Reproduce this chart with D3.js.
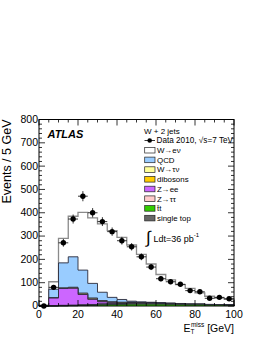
<!DOCTYPE html>
<html><head><meta charset="utf-8">
<script src="https://cdn.jsdelivr.net/npm/d3@7"></script>
<style>body{margin:0;background:#fff}svg{display:block}text{font-family:"Liberation Sans",Arial,Helvetica,sans-serif}</style>
</head><body>
<script>
const binEdges = [0,5,10,15,20,25,30,35,40,45,50,55,60,65,70,75,80,85,90,95,100];
const binCenters = [2.5,7.5,12.5,17.5,22.5,27.5,32.5,37.5,42.5,47.5,52.5,57.5,62.5,67.5,72.5,77.5,82.5,87.5,92.5,97.5];
const dataValues = [0,80,271,373,471,400,362,319,280,254,211,167,117,104,93,66,61,33,37,31];
const dataErrors = [0,8.9,16.5,19.3,21.7,20,19,17.9,16.7,15.9,14.5,12.9,10.8,10.2,9.6,8.1,7.8,5.7,6.1,5.6];
// stacked MC components, bottom -> top
const ttbar     = [0,0,0.5,1,2,3,5,6,7,8,8,8,8,7,6,5,5,4,4,3];
const singleTop = [0,0,0.5,1,1.5,2,3,3,3,4,4,4,3,3,3,2,2,2,1.5,1.5];
const zTauTau   = [0,1,2,2,2,1.5,1,0.5,0.3,0.2,0.1,0.1,0.1,0,0,0,0,0,0,0];
const zee       = [1,33,72,72,44,22,9,4,2,1,0.5,0.3,0.2,0.2,0.1,0.1,0.1,0,0,0];
const dibosons  = [0,0.5,1,1.5,2,2,2,2,1.5,1.5,1.2,1,0.8,0.7,0.6,0.5,0.4,0.3,0.3,0.2];
const wTauNu    = [0,1,2,3,4,4,3.5,3,2.5,2,1.5,1.2,1,0.8,0.6,0.5,0.4,0.3,0.3,0.2];
const qcd       = [1,36.5,107,130.5,98.5,62.5,35.5,18.5,11.7,4,2.5,1.5,1,0.8,0.5,0.4,0.3,0.2,0.2,0.1];
const wENu      = [2,32,105,174,248,281,293,286,266,241,204,164,121,99.5,81,67.5,48,35,28,24];
const xTicks = [0,20,40,60,80,100];
const yTicks = [0,100,200,300,400,500,600,700,800];

const layers = [
  {name:"t\u0304t", vals:ttbar, fill:"#33cc00"},
  {name:"single top", vals:singleTop, fill:"#666666"},
  {name:"Z\u2192\u03c4\u03c4", vals:zTauTau, fill:"#ffcccc"},
  {name:"Z\u2192ee", vals:zee, fill:"#cc66ff"},
  {name:"dibosons", vals:dibosons, fill:"#ffcc00"},
  {name:"W\u2192\u03c4\u03bd", vals:wTauNu, fill:"#ffff99"},
  {name:"QCD", vals:qcd, fill:"#99ccff"},
  {name:"W\u2192e\u03bd", vals:wENu, fill:"#ffffff"}
];
const legendOrder = ["W\u2192e\u03bd","QCD","W\u2192\u03c4\u03bd","dibosons","Z\u2192ee","Z\u2192\u03c4\u03c4","t\u0304t","single top"];

const W=266,H=344;
const L=39,R=234,T=119.5,B=306;
const svg=d3.select("body").append("svg").attr("width",W).attr("height",H);
const x=d3.scaleLinear().domain([0,100]).range([L,R]);
const y=d3.scaleLinear().domain([0,800]).range([B,T]);

let cum = binCenters.map(()=>0);
layers.forEach(l=>{ l.top = l.vals.map((v,i)=>cum[i]+v); cum = l.top; });

const stepLine = d3.line().x(d=>x(d[0])).y(d=>y(d[1]));
function stepPts(top){
  const pts=[[binEdges[0],0]];
  top.forEach((v,i)=>{pts.push([binEdges[i],v]);pts.push([binEdges[i+1],v]);});
  pts.push([binEdges[binEdges.length-1],0]);
  return pts;
}
const g=svg.append("g");
layers.slice().reverse().forEach(l=>{
  const isW = l.fill==="#ffffff";
  g.append("path").attr("d",stepLine(stepPts(l.top)))
   .attr("fill",l.fill)
   .attr("stroke",isW?"#8a8a8a":"#2a2a3a")
   .attr("stroke-width",isW?1.3:0.9)
   .attr("stroke-linejoin","miter");
});

const dg=svg.append("g");
binCenters.forEach((c,i)=>{
  const v=dataValues[i], e=dataErrors[i];
  if(e>0){
    dg.append("line").attr("x1",x(c)).attr("x2",x(c)).attr("y1",y(v-e)).attr("y2",y(v+e)).attr("stroke","#000").attr("stroke-width",0.8);
  }
  dg.append("line").attr("x1",x(c-2.5)).attr("x2",x(c+2.5)).attr("y1",y(v)).attr("y2",y(v)).attr("stroke","#000").attr("stroke-width",0.8);
  dg.append("circle").attr("cx",x(c)).attr("cy",y(v)).attr("r",2.7).attr("fill","#000");
});

svg.append("rect").attr("x",L).attr("y",T).attr("width",R-L).attr("height",B-T).attr("fill","none").attr("stroke","#000").attr("stroke-width",1);

const ax=svg.append("g").attr("stroke","#000").attr("stroke-width",0.8);
for(let v=0; v<=100; v+=5){
  const len = (v%20===0)?6:3;
  ax.append("line").attr("x1",x(v)).attr("x2",x(v)).attr("y1",B).attr("y2",B-len);
  ax.append("line").attr("x1",x(v)).attr("x2",x(v)).attr("y1",T).attr("y2",T+len);
}
for(let v=0; v<=800; v+=20){
  const len = (v%100===0)?6:3;
  ax.append("line").attr("y1",y(v)).attr("y2",y(v)).attr("x1",L).attr("x2",L+len);
  ax.append("line").attr("y1",y(v)).attr("y2",y(v)).attr("x1",R).attr("x2",R-len);
}
xTicks.forEach(v=>{
  svg.append("text").attr("x",x(v)).attr("y",B+12.3).attr("text-anchor","middle").attr("font-size",10.5).text(v);
});
yTicks.forEach(v=>{
  svg.append("text").attr("x",L-1).attr("y",y(v)+(v===0?2.6:3.4)).attr("text-anchor","end").attr("font-size",10.5).text(v);
});

svg.append("text").attr("transform",`translate(10.5,${T})rotate(-90)`).attr("text-anchor","end").attr("font-size",12.5).text("Events / 5 GeV");
const xt=svg.append("text").attr("x",R).attr("y",331.5).attr("text-anchor","end").attr("font-size",10.5);
xt.append("tspan").text("E");
xt.append("tspan").attr("font-size",6.5).attr("dy",2.5).text("T");
xt.append("tspan").attr("font-size",6.5).attr("dx",-3.5).attr("dy",-7).text("miss");
xt.append("tspan").attr("dy",4.5).text(" [GeV]");

svg.append("text").attr("x",47.5).attr("y",137.5).attr("font-size",11).attr("font-weight","bold").attr("font-style","italic").text("ATLAS");

const lg=svg.append("g");
lg.append("text").attr("x",144).attr("y",133.5).attr("font-size",8).text("W + 2 jets");
const ly0=140.5, dy=9.7;
lg.append("line").attr("x1",144.5).attr("x2",155).attr("y1",ly0).attr("y2",ly0).attr("stroke","#000").attr("stroke-width",0.8);
lg.append("circle").attr("cx",149.7).attr("cy",ly0).attr("r",2.3).attr("fill","#000");
lg.append("text").attr("x",156.5).attr("y",ly0+2.8).attr("font-size",8.2).text("Data 2010, \u221as=7 TeV");
legendOrder.forEach((n,i)=>{
  const l=layers.find(d=>d.name===n);
  const cy=ly0+dy*(i+1);
  lg.append("rect").attr("x",144.7).attr("y",cy-2.8).attr("width",10.3).attr("height",5.6).attr("fill",l.fill).attr("stroke","#222").attr("stroke-width",0.7);
  lg.append("text").attr("x",157).attr("y",cy+2.8).attr("font-size",7.9).text(n);
});

svg.append("text").attr("x",146).attr("y",243).attr("font-size",17).attr("font-weight","300").text("\u222b");
const lt=svg.append("text").attr("x",153.5).attr("y",241.5).attr("font-size",9);
lt.append("tspan").text("Ldt=36 pb");
lt.append("tspan").attr("font-size",6).attr("dy",-4.5).text("-1");
</script>
</body></html>
